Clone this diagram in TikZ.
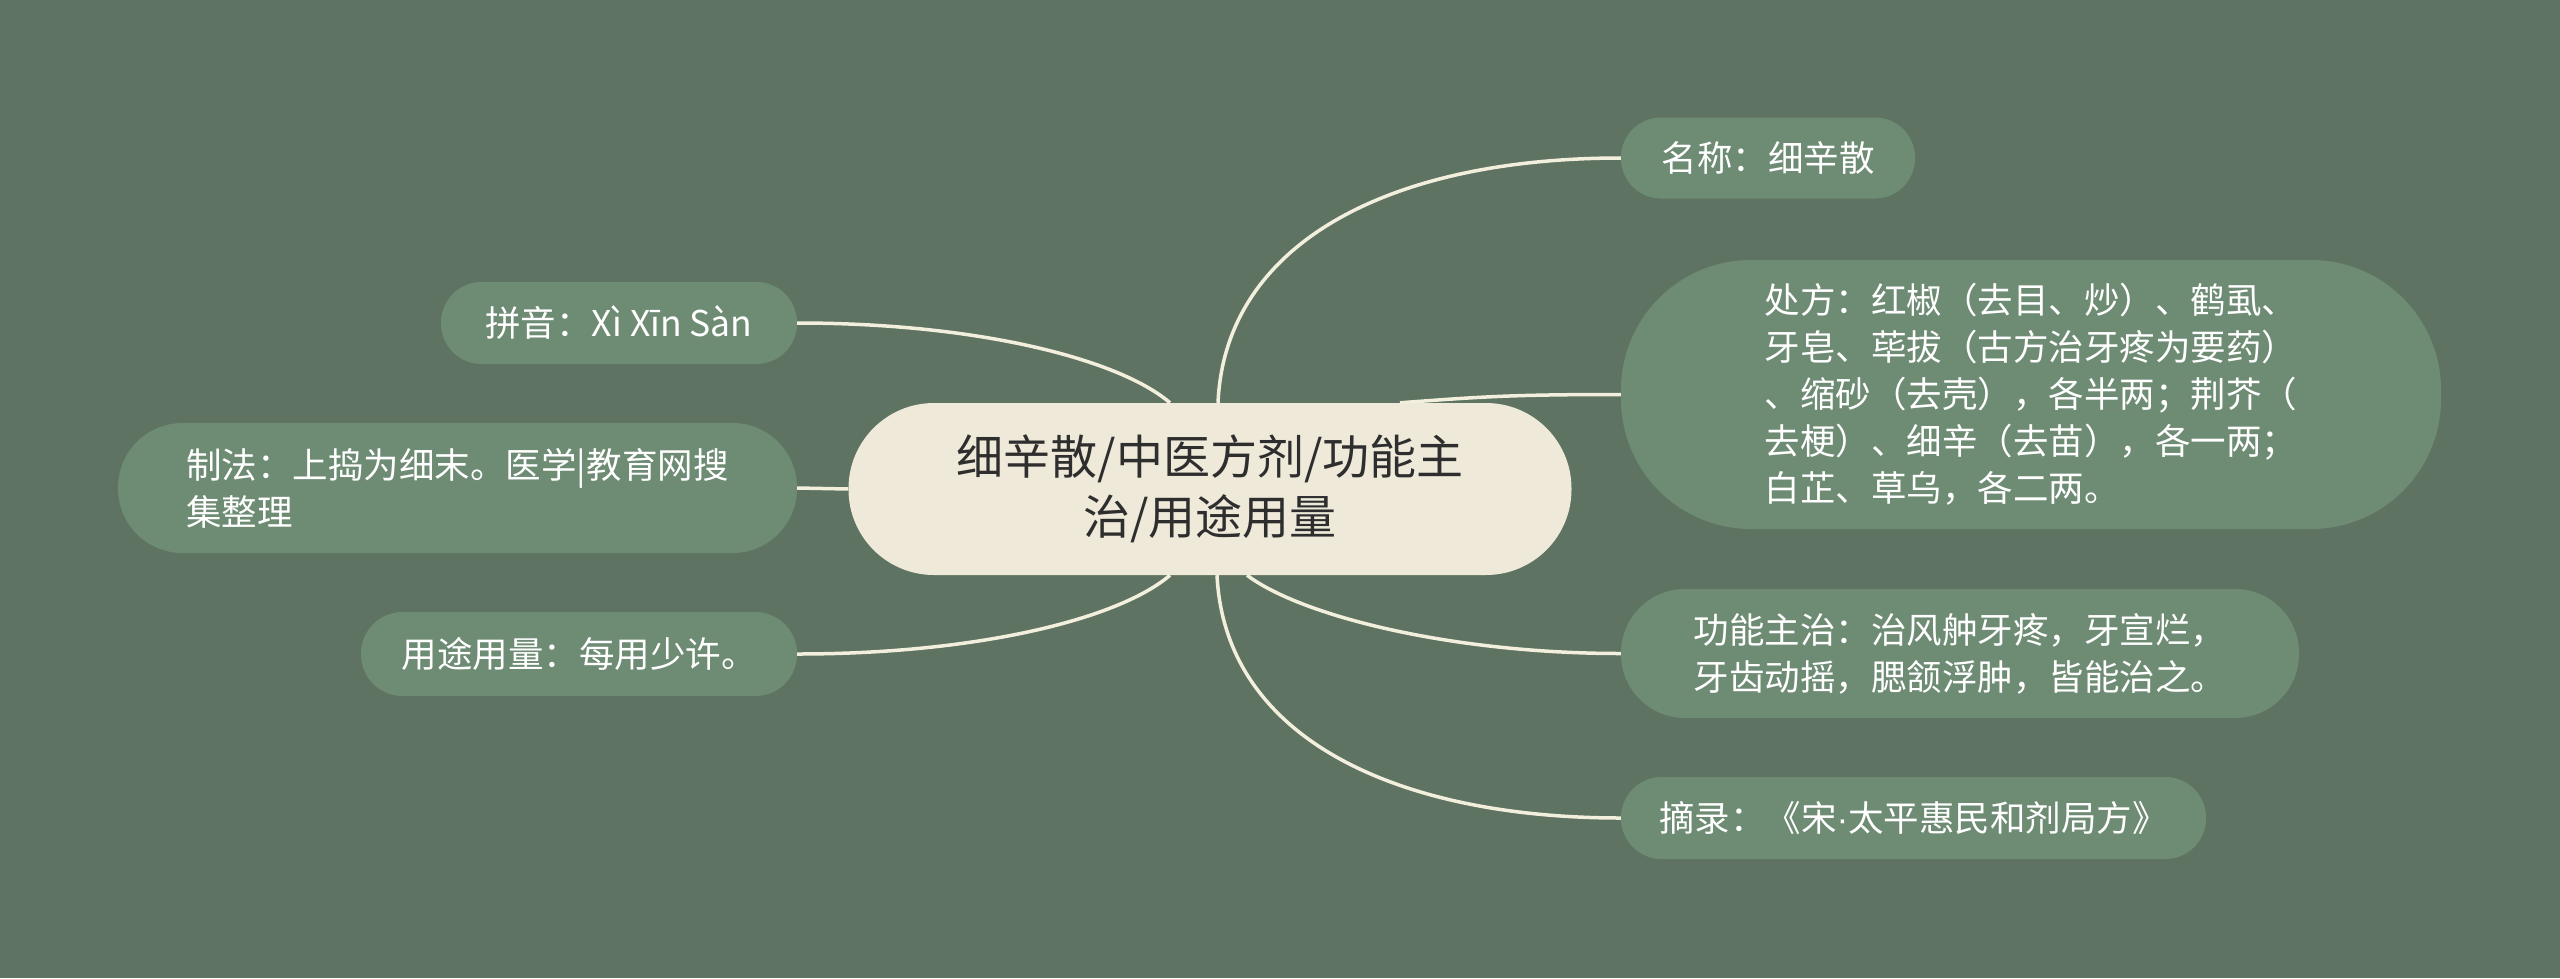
\documentclass[tikz,border=0pt]{standalone}
\usepackage{fontspec}
\setmainfont{Noto Sans CJK SC}
\newfontfamily\latinfont{Liberation Sans}
\definecolor{bg}{HTML}{5F7362}
\definecolor{leaf}{HTML}{6E8B74}
\definecolor{rootfill}{HTML}{EEE9D9}
\definecolor{roottext}{HTML}{2E2E2E}
\definecolor{link}{HTML}{F3EFDD}
\begin{document}
\begin{tikzpicture}[x=1pt,y=-1pt,
  leafbox/.style={fill=leaf, text=white, inner sep=0pt, align=left,
    font=\fontsize{35.5}{47}\selectfont},
  rootbox/.style={fill=rootfill, text=roottext, inner sep=0pt, align=center,
    font=\fontsize{47}{60}\selectfont, minimum width=723pt, minimum height=172pt,
    rounded corners=85.5pt},
  conn/.style={draw=link, line width=3.5pt}]
\fill[bg] (0,0) rectangle (2560,978);
\useasboundingbox (0,0) rectangle (2560,978);

\node[rootbox] (root) at (1210,489) {细辛散/中医方剂/功能主\\治/用途用量};

\node[leafbox, minimum width=294pt, minimum height=81pt, rounded corners=40pt]
  (r1) at (1768,158) {名称：细辛散};
\node[leafbox, minimum width=820pt, minimum height=269pt, rounded corners=130pt]
  (r2) at (2031,394.5) {处方：红椒（去目、炒）、鹤虱、\\牙皂、荜拔（古方治牙疼为要药）\\、缩砂（去壳），各半两；荆芥（\\去梗）、细辛（去苗），各一两；\\白芷、草乌，各二两。};
\node[leafbox, minimum width=678pt, minimum height=129pt, rounded corners=64pt]
  (r3) at (1960,653.5) {功能主治：治风舯牙疼，牙宣烂，\\牙齿动摇，腮颔浮肿，皆能治之。};
\node[leafbox, minimum width=585pt, minimum height=82pt, rounded corners=40.5pt]
  (r4) at (1913.5,818) {摘录：《宋{\latinfont ·}太平惠民和剂局方》};

\node[leafbox, minimum width=356pt, minimum height=82pt, rounded corners=40.5pt]
  (l1) at (619,323) {拼音：Xì Xīn Sàn};
\node[leafbox, minimum width=679pt, minimum height=130pt, rounded corners=64.5pt]
  (l2) at (457.5,488) {制法：上捣为细末。医学|教育网搜\\集整理};
\node[leafbox, minimum width=436pt, minimum height=84pt, rounded corners=41.5pt]
  (l3) at (579,654) {用途用量：每用少许。};

\draw[conn] ([xshift=8pt]root.north) .. controls +(7,-160) and +(-231,0) .. (r1.west);
\draw[conn] ([xshift=190pt]root.north) .. controls +(80,-6) and +(-110,0) .. (r2.west);
\draw[conn] ([xshift=37pt]root.south) .. controls +(53,40) and +(-172,0) .. (r3.west);
\draw[conn] ([xshift=7pt]root.south) .. controls +(8,165) and +(-221,0) .. (r4.west);
\draw[conn] ([xshift=-40pt]root.north) .. controls +(-50,-43) and +(183,0) .. (l1.east);
\draw[conn] (root.west) -- (l2.east);
\draw[conn] ([xshift=-40pt]root.south) .. controls +(-50,43) and +(183,0) .. (l3.east);
\end{tikzpicture}
\end{document}
